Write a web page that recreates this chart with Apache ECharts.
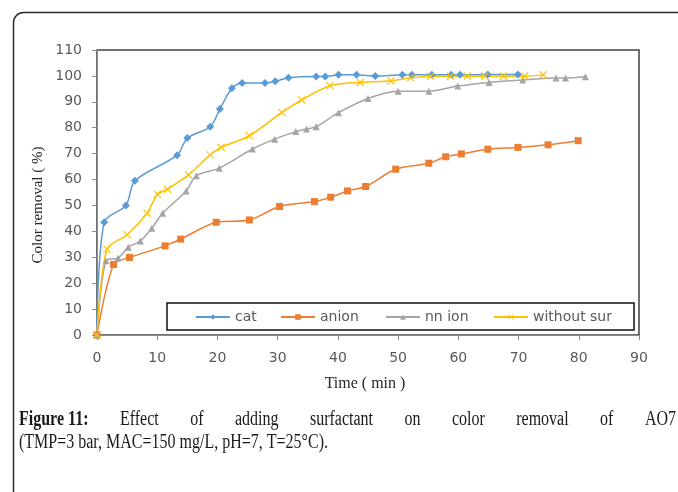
<!DOCTYPE html>
<html>
<head>
<meta charset="utf-8">
<script src="https://cdn.jsdelivr.net/npm/echarts@6/dist/echarts.min.js"></script>
<style>
  html, body { margin: 0; padding: 0; background: #ffffff; }
  #chart { width: 678px; height: 492px; }
</style>
</head>
<body>
<div id="chart"></div>
<script>
// Colour removal (%) over time (min) for each surfactant condition
const seriesNames = ['cat', 'anion', 'nn ion', 'without sur'];

const catTime    = [0, 1.2, 4.8, 6.3, 13.3, 15.0, 18.8, 20.4, 22.4, 24.1, 27.9, 29.6, 31.8, 36.4, 37.9, 40.1, 43.1, 46.2, 50.7, 52.3, 55.6, 58.8, 60.3, 64.9, 69.9];
const catRemoval = [0, 43.5, 50.0, 59.5, 69.4, 76.0, 80.4, 87.2, 95.2, 97.3, 97.3, 97.9, 99.3, 99.8, 99.8, 100.4, 100.4, 100.0, 100.4, 100.4, 100.4, 100.4, 100.4, 100.5, 100.5];

const anionTime    = [0, 2.75, 5.4, 11.3, 13.9, 19.8, 25.3, 30.3, 36.1, 38.8, 41.6, 44.6, 49.6, 55.1, 57.9, 60.5, 64.9, 69.9, 74.9, 79.9];
const anionRemoval = [0, 27.2, 29.9, 34.4, 37.0, 43.5, 44.4, 49.6, 51.5, 53.2, 55.6, 57.3, 64.0, 66.3, 68.8, 69.9, 71.7, 72.4, 73.4, 75.0];

const nnTime    = [0, 1.5, 3.5, 5.2, 7.2, 9.1, 10.9, 14.8, 16.5, 20.3, 25.8, 29.5, 33.0, 34.8, 36.4, 40.1, 45.0, 50.0, 55.1, 59.9, 65.1, 70.7, 76.2, 77.8, 81.1];
const nnRemoval = [0, 28.7, 29.7, 33.9, 36.3, 41.2, 47.0, 55.6, 61.5, 64.4, 71.8, 75.6, 78.5, 79.5, 80.4, 85.8, 91.3, 94.1, 94.1, 96.1, 97.5, 98.4, 99.2, 99.2, 99.7];

const plainTime    = [0, 1.65, 5.0, 8.3, 10.05, 11.7, 15.2, 18.8, 20.6, 25.3, 30.7, 34.0, 38.7, 43.7, 48.8, 52.1, 55.4, 58.7, 61.5, 64.4, 67.5, 71.0, 74.1];
const plainRemoval = [0, 33.1, 38.7, 47.0, 54.3, 56.3, 61.8, 69.5, 72.4, 76.9, 85.9, 90.7, 96.2, 97.5, 98.1, 99.3, 99.9, 99.9, 99.9, 99.9, 99.9, 99.9, 100.4];

const timeAxis    = { min: 0, max: 90, step: 10 };
const removalAxis = { min: 0, max: 110, step: 10 };

const xTitle = 'Time ( min )';
const yTitle = 'Color removal ( %)';
const captionBold = 'Figure 11:';
const captionLine1 = 'Effect of adding surfactant on color removal of AO7';
const captionLine2 = '(TMP=3 bar, MAC=150 mg/L, pH=7, T=25°C).';

const pair = (xs, ys) => xs.map((x, i) => [x, ys[i]]);

const colors = ['#5b9bd5', '#ed7d31', '#a5a5a5', '#ffc000'];
const crossPath = 'path://M0,1 L1,0 L5,4 L9,0 L10,1 L6,5 L10,9 L9,10 L5,6 L1,10 L0,9 L4,5 Z';
const symbols = ['diamond', 'rect', 'triangle', crossPath];
const symbolSizes = [8, 7, 7, 8];
const dataSets = [
  pair(catTime, catRemoval),
  pair(anionTime, anionRemoval),
  pair(nnTime, nnRemoval),
  pair(plainTime, plainRemoval)
];

const tickFont = 'DejaVu Sans';
const serif = 'Liberation Serif';
const labelGrey = '#595959';

// Caption: justified first line built word by word, condensed serif face
const capSize = 20, capScale = 0.8, capLeft = 19, capRight = 676;
const measure = (() => {
  const ctx = document.createElement('canvas').getContext('2d');
  return (txt, bold) => {
    ctx.font = (bold ? 'bold ' : '') + capSize + 'px "' + serif + '"';
    return ctx.measureText(txt).width * capScale;
  };
})();
const words1 = [{ w: captionBold, bold: true }]
  .concat(captionLine1.split(' ').map(w => ({ w, bold: false })));
const total1 = words1.reduce((s, o) => s + measure(o.w, o.bold), 0);
const gap1 = (capRight - capLeft - total1) / (words1.length - 1);
const captionGraphics = [];
let cx = capLeft;
words1.forEach(o => {
  captionGraphics.push({
    type: 'text', x: cx, y: 420, scaleX: capScale,
    style: {
      text: o.w, fill: '#1a1a1a',
      font: (o.bold ? 'bold ' : '') + capSize + 'px "' + serif + '"',
      textVerticalAlign: 'middle'
    }
  });
  cx += measure(o.w, o.bold) + gap1;
});
captionGraphics.push({
  type: 'text', x: capLeft, y: 443, scaleX: capScale,
  style: {
    text: captionLine2, fill: '#1a1a1a',
    font: capSize + 'px "' + serif + '"', textVerticalAlign: 'middle'
  }
});

// One legend component per entry so each sits at its own slot in the box
const legendLefts = [195, 280, 385, 493];
const legends = seriesNames.map((name, i) => ({
  data: [name],
  left: legendLefts[i],
  top: 310,
  padding: 0,
  itemWidth: 34,
  itemHeight: 7,
  itemGap: 0,
  textStyle: { fontFamily: tickFont, fontSize: 14, color: labelGrey }
}));

const chart = echarts.init(document.getElementById('chart'), null, { renderer: 'canvas' });

chart.setOption({
  animation: false,
  backgroundColor: '#ffffff',
  color: colors,
  grid: {
    left: 97, right: 39, top: 50, bottom: 157,
    show: true, borderColor: '#404040', borderWidth: 1.5, backgroundColor: 'transparent'
  },
  legend: legends,
  xAxis: {
    type: 'value',
    min: timeAxis.min, max: timeAxis.max, interval: timeAxis.step,
    axisLine: { show: true, lineStyle: { color: '#8c8c8c', width: 1 } },
    axisTick: { show: true, length: 5, lineStyle: { color: '#8c8c8c' } },
    axisLabel: { margin: 16, fontFamily: tickFont, fontSize: 14, color: labelGrey },
    splitLine: { show: false }
  },
  yAxis: {
    type: 'value',
    min: removalAxis.min, max: removalAxis.max, interval: removalAxis.step,
    axisLine: { show: true, lineStyle: { color: '#8c8c8c', width: 1 } },
    axisTick: { show: true, length: 5, lineStyle: { color: '#8c8c8c' } },
    axisLabel: { margin: 15, fontFamily: tickFont, fontSize: 14, color: labelGrey },
    splitLine: { show: false }
  },
  series: seriesNames.map((name, i) => ({
    name,
    type: 'line',
    data: dataSets[i],
    smooth: 0.3,
    symbol: symbols[i],
    symbolSize: symbolSizes[i],
    showSymbol: true,
    lineStyle: { width: 1.5, color: colors[i] },
    itemStyle: { color: colors[i], borderWidth: 0 },
    emphasis: { disabled: true }
  })),
  graphic: [
    // outer rounded frame
    {
      type: 'rect', shape: { x: 13.5, y: 12.5, width: 720, height: 520, r: 10 },
      style: { fill: 'none', stroke: '#2b2b2b', lineWidth: 1.5 }, silent: true
    },
    // legend box
    {
      type: 'rect', shape: { x: 167, y: 303, width: 467, height: 27 },
      style: { fill: 'none', stroke: '#111111', lineWidth: 1.5 }, silent: true, z: 10
    },
    {
      type: 'text', x: 365, y: 384,
      style: { text: xTitle, font: '16px "' + serif + '"', fill: '#262626', textAlign: 'center', textVerticalAlign: 'middle' }
    },
    {
      type: 'text', x: 38, y: 205, rotation: Math.PI / 2,
      style: { text: yTitle, font: '15px "' + serif + '"', fill: '#262626', textAlign: 'center', textVerticalAlign: 'middle' }
    }
  ].concat(captionGraphics)
});
</script>
</body>
</html>
